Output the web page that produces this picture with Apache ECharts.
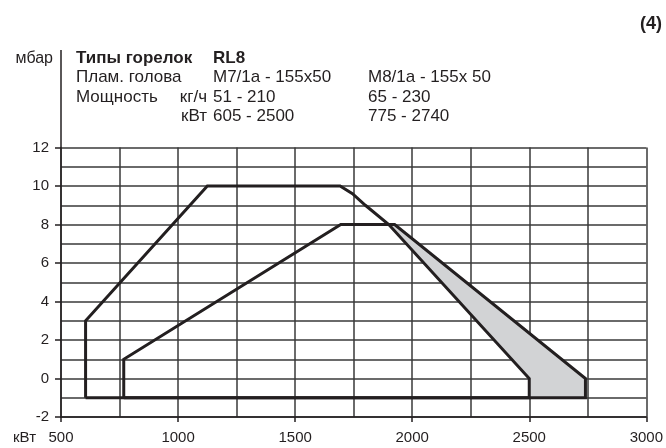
<!DOCTYPE html>
<html>
<head>
<meta charset="utf-8">
<script src="https://cdn.jsdelivr.net/npm/echarts@6/dist/echarts.min.js"></script>
<style>
html,body{margin:0;padding:0;background:#fff;}
#chart{width:666px;height:448px;}
</style>
</head>
<body>
<div id="chart"></div>
<script>
// ---- data (kW, mbar) ----
const headTitle = ['Типы горелок', 'RL8'];
const headHead = ['Плам. голова', 'M7/1a - 155x50', 'M8/1a - 155x 50'];
const headKg = ['Мощность', 'кг/ч', '51 - 210', '65 - 230'];
const headKw = ['кВт', '605 - 2500', '775 - 2740'];
const figNo = '(4)';
const xUnit = 'кВт';
const yUnit = 'мбар';

// M7/1a working field
const fieldM7 = [[605,-1],[605,3],[1125,10],[1692,10],[1745,9.6],[1800,9.0],[1900,8],[2500,0],[2500,-1],[605,-1]];
// M8/1a working field
const fieldM8 = [[768,-1],[768,1],[1695,8],[1925,8],[2740,0],[2740,-1],[768,-1]];
// shaded zone (M8 only)
const grayZone = [[1900,8],[1925,8],[2740,0],[2740,-1],[2500,-1],[2500,0]];

const ink = '#231f20';
const gridCol = '#3a3a3a';
const FONT = '"Liberation Sans", Arial, sans-serif';
const HS = 17;

const chart = echarts.init(document.getElementById('chart'), null, {renderer:'canvas'});

function txt(x, y, s, opts) {
  opts = opts || {};
  return {
    type: 'text', x: x, y: y, silent: true,
    style: {
      text: s, fill: ink,
      font: (opts.bold ? 'bold ' : '') + (opts.size || HS) + 'px ' + FONT,
      align: opts.align || 'left', verticalAlign: 'middle'
    }
  };
}

const option = {
  animation: false,
  backgroundColor: '#fff',
  grid: { left: 61, right: 16, top: 147.5, bottom: 31, containLabel: false },
  xAxis: {
    type: 'value', min: 500, max: 3000, interval: 500,
    name: xUnit, nameLocation: 'start', nameGap: 25,
    nameTextStyle: { fontFamily: FONT, fontSize: 15, color: ink, verticalAlign: 'top', padding: [13,0,0,0] },
    axisLine: { show: true, onZero: false, lineStyle: { color: ink, width: 1.5 } },
    axisTick: { show: true, length: 5, lineStyle: { color: ink, width: 1.5 } },
    axisLabel: { fontFamily: FONT, fontSize: 15, color: ink, margin: 13, formatter: function (v) { return String(v); } },
    splitLine: { show: true, lineStyle: { color: gridCol, width: 1.5 } },
    minorTick: { show: true, splitNumber: 2, length: 0, lineStyle: { width: 0 } },
    minorSplitLine: { show: true, lineStyle: { color: gridCol, width: 1.5 } }
  },
  yAxis: {
    type: 'value', min: -2, max: 12, interval: 2,
    name: yUnit, nameLocation: 'end', nameGap: 89,
    nameTextStyle: { fontFamily: FONT, fontSize: 16, color: ink, align: 'right', verticalAlign: 'middle', padding: [0,8,0,0] },
    axisLine: { show: true, lineStyle: { color: ink, width: 1.5 } },
    axisTick: { show: true, length: 6, lineStyle: { color: ink, width: 1.5 } },
    axisLabel: { fontFamily: FONT, fontSize: 15, color: ink, margin: 12, formatter: function (v) { return String(v); } },
    splitLine: { show: true, lineStyle: { color: gridCol, width: 1.5 } },
    minorTick: { show: true, splitNumber: 2, length: 0, lineStyle: { width: 0 } },
    minorSplitLine: { show: true, lineStyle: { color: gridCol, width: 1.5 } }
  },
  graphic: [
    { type: 'line', silent: true, shape: { x1: 61, y1: 50, x2: 61, y2: 147.5 }, style: { stroke: ink, lineWidth: 1.5 } },
    txt(662, 24, figNo, { bold: true, size: 18, align: 'right' }),
    txt(76, 58, headTitle[0], { bold: true }),
    txt(213, 58, headTitle[1], { bold: true }),
    txt(76, 77.5, headHead[0]),
    txt(213, 77.5, headHead[1]),
    txt(368, 77.5, headHead[2]),
    txt(76, 97, headKg[0]),
    txt(207, 97, headKg[1], { align: 'right' }),
    txt(213, 97, headKg[2]),
    txt(368, 97, headKg[3]),
    txt(207, 116.5, headKw[0], { align: 'right' }),
    txt(213, 116.5, headKw[1]),
    txt(368, 116.5, headKw[2])
  ],
  series: [
    {
      type: 'custom', coordinateSystem: 'cartesian2d', silent: true, z: 2,
      data: grayZone,
      renderItem: function (params, api) {
        if (params.dataIndex !== 0) return null;
        const pts = grayZone.map(function (p) { return api.coord(p); });
        return { type: 'polygon', shape: { points: pts }, style: { fill: '#d2d3d5', stroke: null } };
      }
    },
    {
      type: 'line', data: fieldM7, symbol: 'none', showSymbol: false, silent: true, z: 3,
      lineStyle: { color: ink, width: 3, join: 'miter' }
    },
    {
      type: 'line', data: fieldM8, symbol: 'none', showSymbol: false, silent: true, z: 3,
      lineStyle: { color: ink, width: 3, join: 'miter' }
    }
  ]
};
chart.setOption(option);
</script>
</body>
</html>
